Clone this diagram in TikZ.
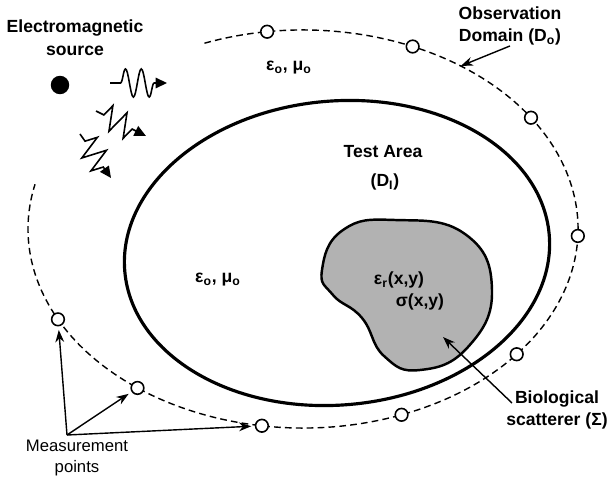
\documentclass[tikz,border=0pt]{standalone}
\usepackage{fontspec}
\setmainfont{Liberation Sans}
\usetikzlibrary{arrows.meta, decorations.pathmorphing}

\tikzset{
  boldtext/.style={font=\fontsize{10}{13}\selectfont\bfseries, align=center, inner sep=0pt},
  lighttext/.style={font=\fontsize{9.5}{12.5}\selectfont, align=center, inner sep=0pt},
  mpoint/.style={circle, draw, line width=0.9pt, fill=white, minimum size=7.2pt, inner sep=0pt},
  obsline/.style={line width=0.8pt, dash pattern=on 3.8pt off 2.4pt},
  testline/.style={line width=1.8pt},
  blobline/.style={line width=1.4pt, fill=black!30},
  pointer/.style={-{Stealth[length=7pt, width=5pt]}, line width=0.8pt},
  wavy/.style={line width=0.9pt, -{Triangle[length=6.5pt, width=6pt]}, decorate}
}

\begin{document}
\begin{tikzpicture}[x=0.02cm, y=-0.02cm]
    \useasboundingbox (0,0) rectangle (609,483);

    % Observation domain
    \draw[obsline] ([shift={(249:275 and 199)}]303,229) arc[start angle=249, end angle=553, x radius=275, y radius=199];
    \coordinate (obs) at ([shift={(305:275 and 199)}]303,229);
    \foreach \a [count=\i] in {262.5,293.5,326,2,39,69,98.6,127,153}
        \node[mpoint] (m\i) at ([shift={(\a:275 and 199)}]303,229) {};

    % Test area
    \draw[testline, rotate around={5:(337,253)}] (337,253) ellipse [x radius=213, y radius=152];

    % Scatterer
    \draw[blobline] plot[smooth cycle, tension=0.8] coordinates {(322,270) (343,230) (395,220) (465,234) (492,290) (468,347) (420,370) (384,356) (362,318) (333,295)};

    % Source and waves
    \node[circle, fill, minimum size=10.5pt, inner sep=0pt] (src) at (60,85) {};
    \draw[wavy, decoration={snake, amplitude=8pt, segment length=9pt, pre length=6pt, post length=7pt}] (110,83) -- (167,83);
    \draw[wavy, decoration={zigzag, amplitude=7pt, segment length=9pt, pre length=5pt, post length=7pt}] (96,111) -- (146,136);
    \draw[wavy, decoration={zigzag, amplitude=7pt, segment length=9pt, pre length=5pt, post length=7pt}] (80,134) -- (111,178);

    % Labels
    \node[boldtext] (emsrc) at (75,38) {Electromagnetic\\source};
    \node[boldtext] (obslabel) at (510,26) {Observation\\Domain (D\textsubscript{o})};
    \node[boldtext] (epsout) at (289,68) {ε\textsubscript{o}, μ\textsubscript{o}};
    \node[boldtext] (test) at (383,152) {Test Area};
    \node[boldtext] (testd) at (385,182) {(D\textsubscript{I})};
    \node[boldtext] (epsin) at (218,280) {ε\textsubscript{o}, μ\textsubscript{o}};
    \node[boldtext] (epsr) at (399,280) {ε\textsubscript{r}(x,y)};
    \node[boldtext] (sig) at (420,302) {σ(x,y)};
    \node[boldtext] (bio) at (557,410) {Biological\\scatterer (Σ)};
    \node[lighttext] (meas) at (77,458) {Measurement\\points};

    % Pointers
    \draw[pointer] (obslabel.south) -- (obs);
    \coordinate (biostart) at (512,403);
    \coordinate (biotip) at (443,337);
    \draw[pointer] (biostart) -- (biotip);
    \coordinate (mp) at (67,435);
    \foreach \i in {7,8,9}
        \draw[pointer, shorten >=2pt] (mp) -- (m\i);
\end{tikzpicture}
\end{document}
